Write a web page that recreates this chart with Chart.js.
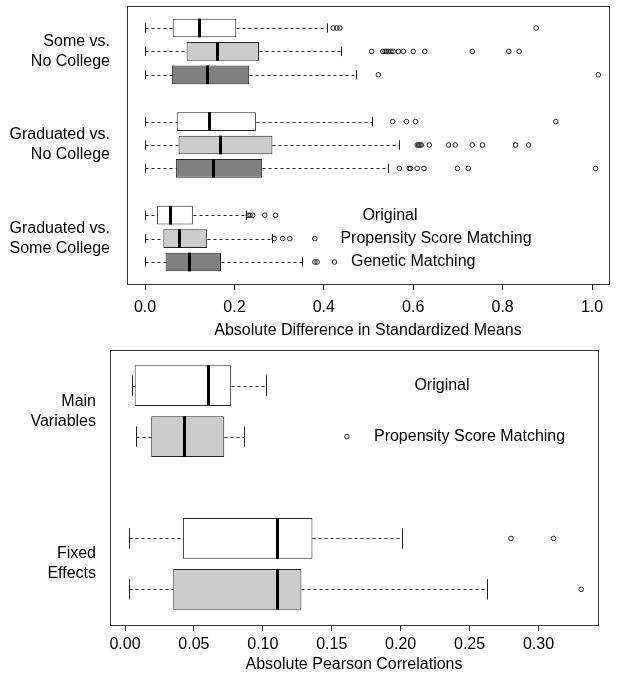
<!DOCTYPE html>
<html lang="en">
<head>
    <meta charset="UTF-8">
    <title>Balance before and after matching</title>
    <script src="https://cdn.jsdelivr.net/npm/chart.js"></script>
    <style>
        body { margin: 0; background: #fff; }
        .panel { position: absolute; left: 0; width: 617px; }
        #topPanel { top: 0; height: 345px; }
        #bottomPanel { top: 345px; height: 347px; }
    </style>
</head>
<body>
<div class="panel" id="topPanel"><canvas id="topChart"></canvas></div>
<div class="panel" id="bottomPanel"><canvas id="bottomChart"></canvas></div>

<script>
// ---- top panel: absolute difference in standardized means ----
const topGroups = [['Some vs.', 'No College'], ['Graduated vs.', 'No College'], ['Graduated vs.', 'Some College']];
const topMethods = ['Original', 'Propensity Score Matching', 'Genetic Matching'];
const topTicks = [0, 0.2, 0.4, 0.6, 0.8, 1.0];
// rows: each group x each method
const topLow  = [0, 0, 0, 0, 0, 0, 0, 0, 0];
const topQ1   = [0.062, 0.093, 0.060, 0.071, 0.075, 0.069, 0.027, 0.041, 0.046];
const topMed  = [0.120, 0.160, 0.138, 0.144, 0.168, 0.153, 0.057, 0.076, 0.099];
const topQ3   = [0.204, 0.255, 0.233, 0.248, 0.285, 0.262, 0.107, 0.139, 0.170];
const topHigh = [0.408, 0.438, 0.472, 0.508, 0.569, 0.543, 0.227, 0.284, 0.351];
const topOut = [
    [0.421, 0.429, 0.436, 0.875],
    [0.507, 0.532, 0.537, 0.541, 0.545, 0.550, 0.555, 0.567, 0.578, 0.600, 0.626, 0.732, 0.814, 0.837],
    [0.522, 1.014],
    [0.554, 0.585, 0.605, 0.919],
    [0.609, 0.612, 0.615, 0.618, 0.636, 0.679, 0.694, 0.732, 0.755, 0.829, 0.858],
    [0.569, 0.591, 0.594, 0.609, 0.624, 0.699, 0.723, 1.008],
    [0.231, 0.235, 0.241, 0.268, 0.292],
    [0.289, 0.308, 0.324, 0.380],
    [0.380, 0.385, 0.424]
];

// ---- bottom panel: absolute pearson correlations ----
const botGroups = [['Main', 'Variables'], ['Fixed', 'Effects']];
const botMethods = ['Original', 'Propensity Score Matching'];
const botTicks = [0, 0.05, 0.10, 0.15, 0.20, 0.25, 0.30];
const botLow  = [0.005, 0.008, 0.003, 0.003];
const botQ1   = [0.007, 0.019, 0.042, 0.035];
const botMed  = [0.060, 0.043, 0.110, 0.110];
const botQ3   = [0.077, 0.072, 0.136, 0.128];
const botHigh = [0.102, 0.086, 0.201, 0.263];
const botOut = [[], [0.161], [0.280, 0.311], [0.331]];

const fills = ['#ffffff', '#cccccc', '#808080'];
const ink = '#222';
const FONT = 'Liberation Sans';

Chart.defaults.font.family = FONT;
Chart.defaults.font.size = 16;
Chart.defaults.color = '#000';

// draws whiskers, staples, medians, the frame and the in-plot method notes
const boxplotPlugin = {
    id: 'boxplot',
    afterDatasetsDraw(chart, args, opts) {
        const ctx = chart.ctx;
        const xs = chart.scales.x;
        const ys = chart.scales.y;
        const bars = chart.getDatasetMeta(0).data;
        const px = v => Math.round(xs.getPixelForValue(v)) + 0.5;
        ctx.save();
        ctx.strokeStyle = ink;
        bars.forEach((el, i) => {
            const y = Math.round(el.y) + 0.5;
            const h = el.height;
            ctx.lineWidth = 1;
            ctx.setLineDash([3, 3]);
            ctx.beginPath();
            ctx.moveTo(px(opts.low[i]), y); ctx.lineTo(px(opts.q1[i]), y);
            ctx.moveTo(px(opts.q3[i]), y); ctx.lineTo(px(opts.high[i]), y);
            ctx.stroke();
            ctx.setLineDash([]);
            ctx.beginPath();
            [opts.low[i], opts.high[i]].forEach(v => {
                ctx.moveTo(px(v), el.y - h / 4); ctx.lineTo(px(v), el.y + h / 4);
            });
            ctx.stroke();
            ctx.lineWidth = 3;
            ctx.strokeStyle = '#000';
            ctx.beginPath();
            ctx.moveTo(px(opts.med[i]), el.y - h / 2); ctx.lineTo(px(opts.med[i]), el.y + h / 2);
            ctx.stroke();
            ctx.strokeStyle = ink;
        });
        const a = chart.chartArea;
        ctx.lineWidth = 1;
        ctx.strokeStyle = '#333';
        ctx.strokeRect(Math.round(a.left) + 0.5, Math.round(a.top) + 0.5,
            Math.round(a.right - a.left), Math.round(a.bottom - a.top));
        ctx.fillStyle = '#000';
        ctx.font = '16px "' + FONT + '"';
        ctx.textAlign = 'center';
        ctx.textBaseline = 'middle';
        opts.notes.forEach(n => {
            ctx.fillText(n.text, xs.getPixelForValue(n.x), ys.getPixelForValue(n.y));
        });
        ctx.restore();
    }
};

function buildChart(id, cfg) {
    const nm = cfg.methods.length;
    const pos = cfg.q1.map((q, i) => Math.floor(i / nm) * (nm + 1) + (i % nm) + 1);
    const groupPos = cfg.groups.map((g, k) => k * (nm + 1) + (nm + 1) / 2);
    const outPts = [];
    cfg.out.forEach((list, i) => list.forEach(v => outPts.push({ x: v, y: pos[i] })));

    return new Chart(document.getElementById(id), {
        type: 'scatter',
        data: {
            datasets: [{
                type: 'bar',
                indexAxis: 'y',
                data: cfg.q1.map((q, i) => ({ x: [q, cfg.q3[i]], y: pos[i] })),
                backgroundColor: pos.map((p, i) => fills[i % nm]),
                borderColor: ink,
                borderWidth: 1,
                borderSkipped: false,
                categoryPercentage: 1,
                barPercentage: 0.8
            }, {
                type: 'scatter',
                data: outPts,
                pointStyle: 'circle',
                pointRadius: 2.3,
                pointBorderWidth: 1,
                pointBorderColor: ink,
                pointBackgroundColor: 'rgba(0,0,0,0)'
            }]
        },
        options: {
            responsive: true,
            maintainAspectRatio: false,
            animation: false,
            events: [],
            layout: { padding: cfg.padding },
            plugins: {
                legend: { display: false },
                tooltip: { enabled: false },
                boxplot: {
                    low: cfg.low, q1: cfg.q1, med: cfg.med, q3: cfg.q3, high: cfg.high,
                    notes: cfg.notes
                }
            },
            scales: {
                x: {
                    type: 'linear',
                    position: 'bottom',
                    offset: false,
                    beginAtZero: false,
                    min: cfg.xMin,
                    max: cfg.xMax,
                    afterBuildTicks: s => { s.ticks = cfg.ticks.map(v => ({ value: v })); },
                    afterFit: s => {
                        s.height = cfg.xHeight;
                        s.paddingLeft = 0; s.paddingRight = 0;
                    },
                    grid: { offset: false, drawOnChartArea: false, drawTicks: true, tickLength: 6, tickColor: ink },
                    border: { display: false },
                    ticks: {
                        autoSkip: false, maxRotation: 0, padding: cfg.tickPad,
                        callback: v => v.toFixed(cfg.digits)
                    },
                    title: {
                        display: true, text: cfg.title,
                        padding: { top: 0, bottom: cfg.titlePad }
                    }
                },
                y: {
                    type: 'linear',
                    position: 'left',
                    reverse: true,
                    offset: false,
                    beginAtZero: false,
                    min: cfg.yMin,
                    max: cfg.yMax,
                    afterBuildTicks: s => { s.ticks = groupPos.map(v => ({ value: v })); },
                    afterFit: s => {
                        s.width = cfg.yWidth;
                        s.paddingTop = 0; s.paddingBottom = 0;
                    },
                    grid: { display: false, offset: false, drawTicks: false },
                    border: { display: false },
                    ticks: {
                        padding: cfg.labelPad,
                        font: { size: 16, lineHeight: 1.25 },
                        callback: (v, i) => cfg.groups[i]
                    }
                }
            }
        },
        plugins: [boxplotPlugin]
    });
}

buildChart('topChart', {
    groups: topGroups, methods: topMethods, ticks: topTicks, digits: 1,
    low: topLow, q1: topQ1, med: topMed, q3: topQ3, high: topHigh, out: topOut,
    xMin: -0.0403, xMax: 1.038, yMin: 0.06, yMax: 11.94,
    padding: { top: 6, right: 8, left: 0, bottom: 0 },
    xHeight: 61, yWidth: 127, tickPad: 8, titlePad: 5, labelPad: 17,
    title: 'Absolute Difference in Standardized Means',
    notes: [
        { text: topMethods[0], x: 0.548, y: 9 },
        { text: topMethods[1], x: 0.651, y: 10 },
        { text: topMethods[2], x: 0.600, y: 11 }
    ]
});

buildChart('bottomChart', {
    groups: botGroups, methods: botMethods, ticks: botTicks, digits: 2,
    low: botLow, q1: botQ1, med: botMed, q3: botQ3, high: botHigh, out: botOut,
    xMin: -0.0109, xMax: 0.3432, yMin: 0.3, yMax: 5.7,
    padding: { top: 2, right: 19, left: 0, bottom: 0 },
    xHeight: 67, yWidth: 110, tickPad: 4, titlePad: 18, labelPad: 14,
    title: 'Absolute Pearson Correlations',
    notes: [
        { text: botMethods[0], x: 0.230, y: 1 },
        { text: botMethods[1], x: 0.250, y: 2 }
    ]
});
</script>
</body>
</html>
